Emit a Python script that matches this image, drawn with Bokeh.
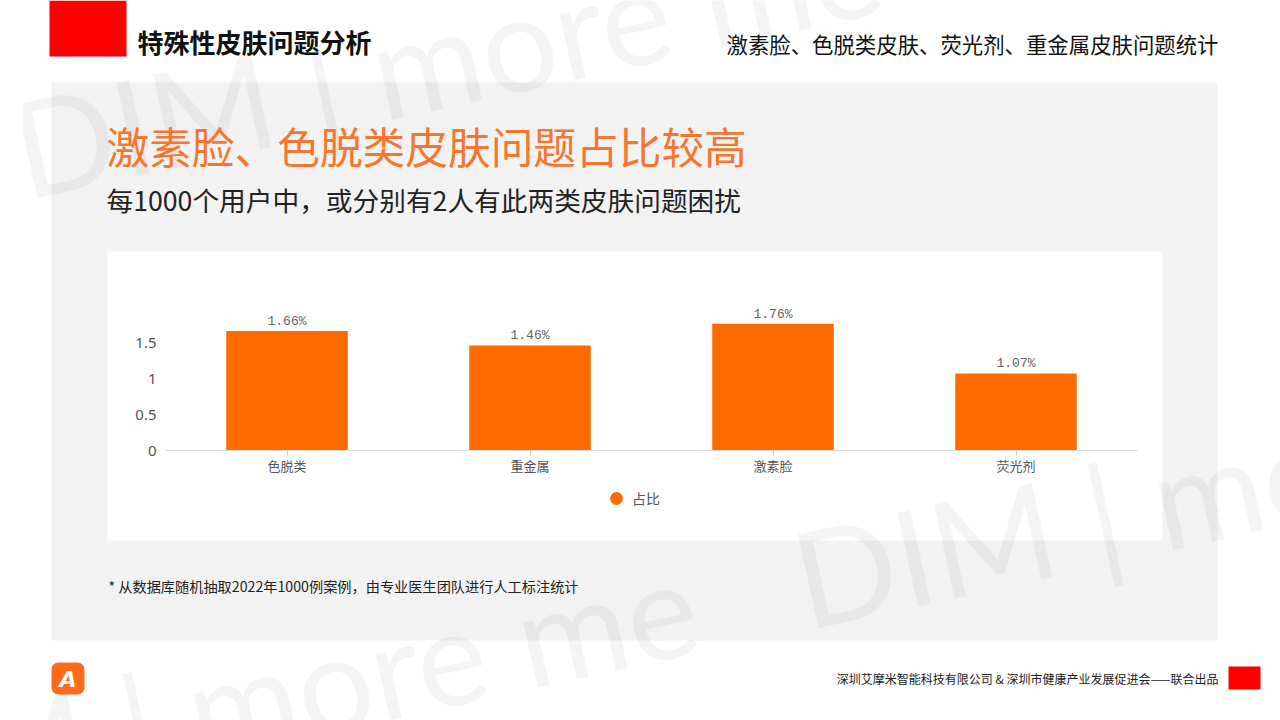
from bokeh.plotting import figure
from bokeh.models import (ColumnDataSource, Range1d, FactorRange, FixedTicker,
                          BoxAnnotation, Label, Legend, LegendItem)
from bokeh.core.properties import value
from bokeh.embed import file_html
from bokeh.resources import INLINE

# ---------------- data ----------------
categories = ["色脱类", "重金属", "激素脸", "荧光剂"]
shares = [1.66, 1.46, 1.76, 1.07]
share_labels = ["1.66%", "1.46%", "1.76%", "1.07%"]
y_ticks = [0, 0.5, 1, 1.5]
y_tick_labels = ["0", "0.5", "1", "1.5"]
series_name = "占比"

page_title = "特殊性皮肤问题分析"
header_right = "激素脸、色脱类皮肤、荧光剂、重金属皮肤问题统计"
headline = "激素脸、色脱类皮肤问题占比较高"
subline = "每1000个用户中，或分别有2人有此两类皮肤问题困扰"
footnote = "* 从数据库随机抽取2022年1000例案例，由专业医生团队进行人工标注统计"
credit = "深圳艾摩米智能科技有限公司 & 深圳市健康产业发展促进会——联合出品"
watermark = "DIM | more me"

# ---------------- layout / style ----------------
CJK = "Noto Sans CJK SC"
ORANGE = "#FF6A00"
W, H = 1280, 720
LEFT_PAD = 22                     # frame starts here so the chart sits where the slide has it
AXIS_L, AXIS_R, AXIS_Y = 165, 1137, 450
PX_PER_UNIT = 72.0
RP = (W - LEFT_PAD) / (AXIS_R - AXIS_L) - 1.0

src = ColumnDataSource(dict(cat=categories, share=shares, label=share_labels))

p = figure(width=W, height=H,
           x_range=FactorRange(factors=categories, range_padding=RP,
                               range_padding_units="percent"),
           y_range=Range1d(-(H - AXIS_Y) / PX_PER_UNIT, AXIS_Y / PX_PER_UNIT),
           output_backend="svg", toolbar_location=None,
           min_border_left=LEFT_PAD, min_border_right=0,
           min_border_top=0, min_border_bottom=0)

p.background_fill_color = "white"
p.border_fill_color = "white"
p.outline_line_color = None
p.xgrid.visible = False
p.ygrid.visible = False


def box(l, r, t, b, color, radius=0, level="image"):
    p.add_layout(BoxAnnotation(left=l, right=r, top=t, bottom=b,
                               left_units="canvas", right_units="canvas",
                               top_units="canvas", bottom_units="canvas",
                               fill_color=color, fill_alpha=1.0, line_color=None,
                               border_radius=radius, level=level))


def text(x, y, s, size, color, font=CJK, align="left", style="normal",
         baseline="middle", angle=0.0, alpha=1.0, level="annotation"):
    p.add_layout(Label(x=x, y=y, text=s, x_units="canvas", y_units="canvas",
                       text_font=font, text_font_size=f"{size}px", text_color=color,
                       text_align=align, text_baseline=baseline, text_font_style=style,
                       angle=angle, text_alpha=alpha, level=level))


# slide background pieces
box(51, 1217, 82, 640, "#f2f2f2")
box(107, 1162, 251, 540, "#ffffff")
box(49, 126, 0, 56, "#ff0000")
box(1228, 1260, 666, 689, "#ff0000")
box(51, 84, 662, 694, "#FF6B1A", radius=7, level="annotation")

# faint watermark
for wx, wy in [(14, 150), (-170, 790), (795, 580)]:
    text(wx, wy, watermark, 134, "#000000", font="Lato", baseline="alphabetic",
         angle=0.216, alpha=0.045, level="underlay")

# texts
text(137, 41, page_title, 26, "#111111", style="bold")
text(1218, 43, header_right, 21.4, "#111111", align="right")
text(106, 144, headline, 42.7, "#F5762E")
text(106, 199, subline, 26.7, "#222222")
text(108, 585, footnote, 14.2, "#222222")
text(1218, 678, credit, 12, "#222222", align="right")
text(67.5, 679, "A", 22, "#ffffff", font="DejaVu Sans", align="center", style="bold italic")

# ---------------- chart ----------------
p.vbar(x="cat", top="share", width=0.5, source=src, fill_color=ORANGE, line_color=None)
p.text(x="cat", y="share", text="label", source=src, text_align="center",
       text_baseline="bottom", y_offset=-2, text_font=value("Liberation Mono"),
       text_font_size="13px", text_color="#666666")

dot = p.scatter(x="cat", y="share", source=src, marker="circle", size=0,
                fill_color=ORANGE, line_color=None)
legend = Legend(items=[LegendItem(label=series_name, renderers=[dot])],
                location=(600 - LEFT_PAD, H - 514), orientation="horizontal",
                glyph_width=32, glyph_height=32, label_standoff=0,
                padding=0, margin=0, border_line_color=None, background_fill_alpha=0,
                label_text_font=CJK, label_text_font_size="14px", label_text_color="#555555")
p.add_layout(legend)

xa = p.xaxis[0]
xa.fixed_location = 0
xa.bounds = (0, len(categories))
xa.axis_line_color = "#d9d9d9"
xa.major_tick_line_color = "#cccccc"
xa.major_tick_out = 5
xa.major_tick_in = 0
xa.minor_tick_line_color = None
xa.major_label_text_font = CJK
xa.major_label_text_font_size = "13px"
xa.major_label_text_color = "#555555"
xa.major_label_standoff = 0

ya = p.yaxis[0]
ya.fixed_location = 0
ya.ticker = FixedTicker(ticks=y_ticks)
ya.major_label_overrides = dict(zip(y_ticks, y_tick_labels))
ya.axis_line_color = None
ya.major_tick_line_color = None
ya.minor_tick_line_color = None
ya.major_tick_out = 0
ya.major_tick_in = 0
ya.major_label_text_font = "Noto Sans"
ya.major_label_text_font_size = "15px"
ya.major_label_text_color = "#555555"
ya.major_label_standoff = 9

open("out.html", "w", encoding="utf-8").write(file_html(p, INLINE))
